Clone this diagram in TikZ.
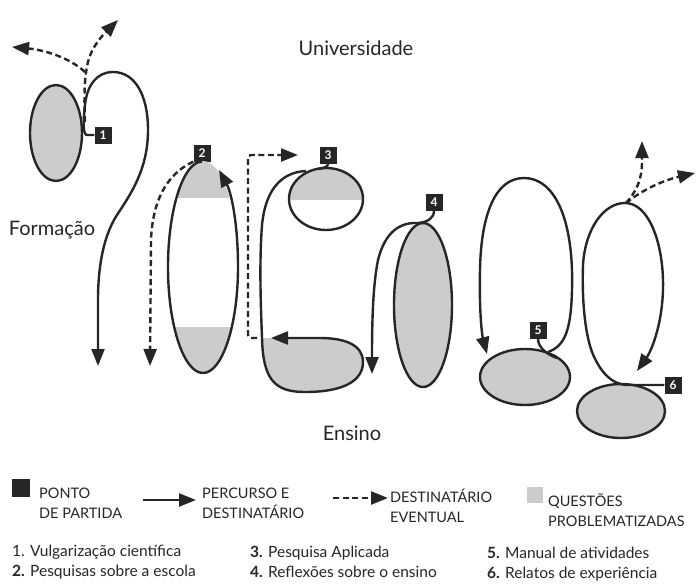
\documentclass[tikz,border=0pt]{standalone}
\usepackage{fontspec}
\setmainfont{Lato}
\usetikzlibrary{arrows.meta,positioning}

\begin{document}
\begin{tikzpicture}[x=1pt,y=-1pt,
  route/.style={line width=2.4pt,draw=black!85},
  dest/.style={line width=2.4pt,draw=black!85,dash pattern=on 6pt off 3.5pt},
  tip/.style={-{Triangle[length=17pt,width=13pt]}},
  startbox/.style={fill=black!85,text=white,minimum size=17pt,inner sep=0pt,
    font=\fontsize{12}{12}\selectfont\bfseries},
  qgray/.style={fill=black!20},
  title/.style={font=\fontsize{20}{24}\selectfont,text=black!85},
  legend/.style={font=\fontsize{14.5}{20}\selectfont,align=left,anchor=west,
    text=black!85,inner sep=0pt},
  items/.style={font=\fontsize{15.5}{20}\selectfont,align=left,anchor=west,
    text=black!85,inner sep=0pt}]
  \useasboundingbox (0,0) rectangle (697,584);

  \node[title] (univ) at (356,48) {Universidade};
  \node[title] (form) at (52,230) {Formação};
  \node[title] (ens) at (352,433) {Ensino};

  \node[startbox] (p1) at (103,135) {1};
  \node[startbox] (p2) at (202,153) {2};
  \node[startbox] (p3) at (328,155) {3};
  \node[startbox] (p4) at (434,202) {4};
  \node[startbox] (p5) at (538,330) {5};
  \node[startbox] (p6) at (673,385) {6};

  \coordinate (e1) at (98,366);
  \coordinate (d1) at (85,122);
  \coordinate (b1) at (85,72);
  \coordinate (u1) at (118,20);
  \coordinate (f1) at (12,47);
  \coordinate (e2) at (219,170);
  \coordinate (d2) at (150,366);
  \coordinate (o3) at (306,171);
  \coordinate (e3) at (271,338);
  \coordinate (s3) at (257,338);
  \coordinate (d3) at (298,155);
  \coordinate (e4) at (372,374);
  \coordinate (s5) at (548,352);
  \coordinate (e5) at (487,354);
  \coordinate (e6) at (637,371);
  \coordinate (t6) at (626,203);
  \coordinate (u6) at (642,141);
  \coordinate (r6) at (695,173);

  \fill[qgray] (56,133) ellipse[x radius=26,y radius=48];
  \draw[route] (56,133) ellipse[x radius=26,y radius=48];
  \draw[route,tip] (p1.west) -- (87,135) .. controls (83,135) and (83,122) .. (85,105)
    .. controls (87,85) and (97,72) .. (113,72) .. controls (135,72) and (148,95) .. (148,130)
    .. controls (148,170) and (130,195) .. (117,215) .. controls (104,235) and (98,265) .. (98,300)
    -- (e1);
  \draw[dest,tip] (d1) .. controls (84,100) and (84,78) .. (88,62)
    .. controls (92,46) and (103,35) .. (u1);
  \draw[dest,tip] (b1) .. controls (70,58) and (45,50) .. (f1);

  \begin{scope}
    \clip (203,267) ellipse[x radius=35,y radius=106];
    \fill[qgray] (160,150) rectangle (250,198);
    \fill[qgray] (160,327) rectangle (250,385);
  \end{scope}
  \draw[route,tip] (p2.south) .. controls (184,161) and (168,208) .. (168,267)
    .. controls (168,326) and (184,373) .. (203,373) .. controls (222,373) and (238,326) .. (238,267)
    .. controls (238,222) and (231,192) .. (e2);
  \draw[dest,tip] (p2.south west) .. controls (175,170) and (153,190) .. (151,240) -- (d2);

  \begin{scope}
    \clip (326,199) ellipse[x radius=37,y radius=31];
    \fill[qgray] (280,160) rectangle (370,200);
  \end{scope}
  \draw[route] (326,199) ellipse[x radius=37,y radius=31];
  \draw[route] (p3.south) .. controls (328,167) and (324,168) .. (318,169);
  \fill[qgray] (262,338) .. controls (263,380) and (275,392) .. (305,392)
    .. controls (345,392) and (363,380) .. (363,362) .. controls (363,345) and (345,338) .. (320,338)
    -- cycle;
  \draw[route,tip] (o3) .. controls (285,172) and (266,185) .. (262,225)
    .. controls (259,265) and (261,310) .. (262,338) .. controls (263,380) and (275,392) .. (305,392)
    .. controls (345,392) and (363,380) .. (363,362) .. controls (363,345) and (345,338) .. (320,338)
    -- (e3);
  \draw[dest,tip,rounded corners=3pt] (s3) -- (248,338) -- (248,155) -- (d3);

  \fill[qgray] (423,305) ellipse[x radius=29,y radius=82];
  \draw[route] (423,305) ellipse[x radius=29,y radius=82];
  \draw[route,tip] (p4.south) .. controls (434,218) and (428,222) .. (418,223)
    .. controls (400,222) and (385,232) .. (378,260) .. controls (373,285) and (372,320) .. (e4);

  \fill[qgray] (525,377) ellipse[x radius=45,y radius=28];
  \draw[route] (525,377) ellipse[x radius=45,y radius=28];
  \draw[route] (p5.south) .. controls (538,348) and (548,355) .. (557,358);
  \draw[route,tip] (s5) .. controls (565,346) and (571,330) .. (572,290)
    .. controls (574,220) and (555,178) .. (524,178) .. controls (495,178) and (481,215) .. (480,270)
    .. controls (479,310) and (482,335) .. (e5);

  \fill[qgray] (621,411) ellipse[x radius=44,y radius=27];
  \draw[route] (621,411) ellipse[x radius=44,y radius=27];
  \draw[route,tip] (p6.west) -- (628,385) .. controls (612,385) and (600,372) .. (592,352)
    .. controls (584,330) and (582,295) .. (583,265) .. controls (585,230) and (603,203) .. (625,203)
    .. controls (648,203) and (662,240) .. (663,280) .. controls (664,320) and (652,350) .. (e6);
  \draw[dest,tip] (t6) .. controls (636,192) and (642,180) .. (642,162) -- (u6);
  \draw[dest,tip] (t6) .. controls (645,188) and (665,180) .. (r6);

  \node[startbox,minimum size=18pt] (kbox) at (21,488) {};
  \node[legend] (kpt) at (39,503) {PONTO\\DE PARTIDA};
  \coordinate (ka) at (143,500);
  \coordinate (kb) at (196,500);
  \draw[route,tip] (ka) -- (kb);
  \node[legend] (kpe) at (202,503) {PERCURSO E\\DESTINATÁRIO};
  \coordinate (kc) at (333,498);
  \coordinate (kd) at (388,498);
  \draw[dest,tip] (kc) -- (kd);
  \node[legend] (kde) at (390,506) {DESTINATÁRIO\\EVENTUAL};
  \node[qgray,minimum size=16pt,inner sep=0pt] (kq) at (535,495) {};
  \node[legend] (kqp) at (548,510) {QUESTÕES\\PROBLEMATIZADAS};

  \node[items] (i1) at (12,562) {1. Vulgarização científica\\\textbf{2.} Pesquisas sobre a escola};
  \node[items] (i3) at (250,562) {\textbf{3.} Pesquisa Aplicada\\\textbf{4.} Reflexões sobre o ensino};
  \node[items] (i5) at (487,564) {\textbf{5.} Manual de atividades\\\textbf{6.} Relatos de experiência};
\end{tikzpicture}
\end{document}
